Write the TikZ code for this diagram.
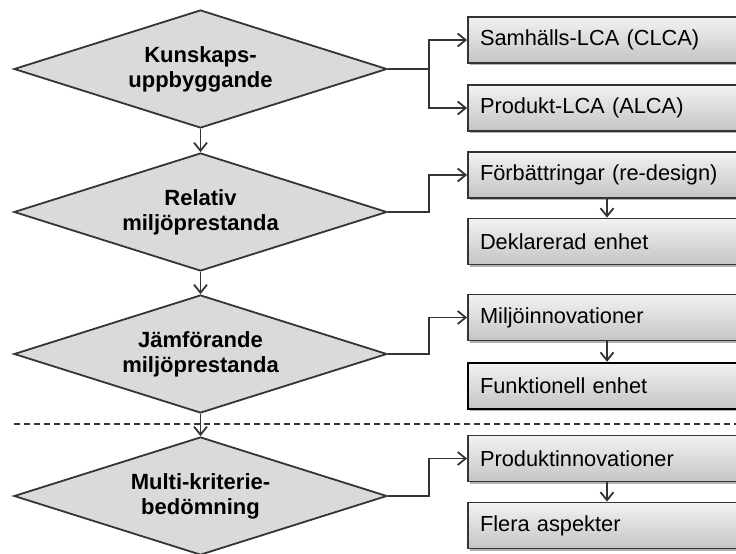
\documentclass[tikz,border=0pt]{standalone}
\usepackage{fontspec}
\setmainfont{Liberation Sans}
\usetikzlibrary{shapes.geometric,shadows,arrows.meta}
\definecolor{linegray}{RGB}{52,52,52}
\definecolor{diafill}{RGB}{218,218,218}
\definecolor{boxtop}{RGB}{242,242,242}
\definecolor{boxbot}{RGB}{196,196,196}

\begin{document}
\begin{tikzpicture}[x=1pt,y=-1pt,line width=1.8pt,
        >={Straight Barb[length=8pt,width=13pt]},
        level/.style={diamond,draw=linegray,fill=diafill,aspect=3.16,
            minimum width=373pt,minimum height=118pt,inner sep=0pt,
            align=center,font=\bfseries\fontsize{22}{25}\selectfont},
        box/.style={rectangle,draw=linegray,top color=boxtop,bottom color=boxbot,
            minimum height=46pt,text width=254pt,inner xsep=12pt,inner ysep=0pt,
            align=left,font=\fontsize{21.8}{25}\selectfont,
            drop shadow={shadow xshift=1.5pt,shadow yshift=-2pt,fill=black,opacity=.3}},
        link/.style={->,draw=linegray}]
    \clip (0,0) rectangle (736,554);
    \fill[white] (0,0) rectangle (736,554);

% left column
\node[level] (kun) at (200.5,69)  {Kunskaps-\\uppbyggande};
\node[level] (rel) at (200.5,212) {Relativ\\miljöprestanda};
\node[level] (jam) at (200.5,354) {Jämförande\\miljöprestanda};
\node[level] (mul) at (200.5,496) {Multi-kriterie-\\bedömning};

% right column
\node[box] (clca) at (607,40)    {Samhälls-LCA (CLCA)};
\node[box] (alca) at (607,108)   {Produkt-LCA (ALCA)};
\node[box] (forb) at (607,175)   {Förbättringar (re-design)};
\node[box] (dekl) at (607,241.5) {Deklarerad enhet};
\node[box] (innov) at (607,317.5) {Miljöinnovationer};
\node[box,draw=black,line width=2.4pt] (funk) at (607,386) {Funktionell enhet};
\node[box] (prod) at (607,458.5) {Produktinnovationer};
\node[box] (asp) at (607,525.5)  {Flera aspekter};

\draw[dashed,draw=linegray,dash pattern=on 6pt off 4pt] (14,424) -- (736,424);

\draw[link] (kun) -- (rel);
\draw[link] (rel) -- (jam);
\draw[link] (jam) -- (mul);

\draw[link] (kun.east) -- ++(41,0) |- (clca.west);
\draw[link] (kun.east) -- ++(41,0) |- (alca.west);
\draw[link] (rel.east) -- ++(41,0) |- (forb.west);
\draw[link] (jam.east) -- ++(41,0) |- (innov.west);
\draw[link] (mul.east) -- ++(41,0) |- (prod.west);

\draw[link] (forb) -- (dekl);
\draw[link] (innov) -- (funk);
\draw[link] (prod) -- (asp);
\end{tikzpicture}
\end{document}
